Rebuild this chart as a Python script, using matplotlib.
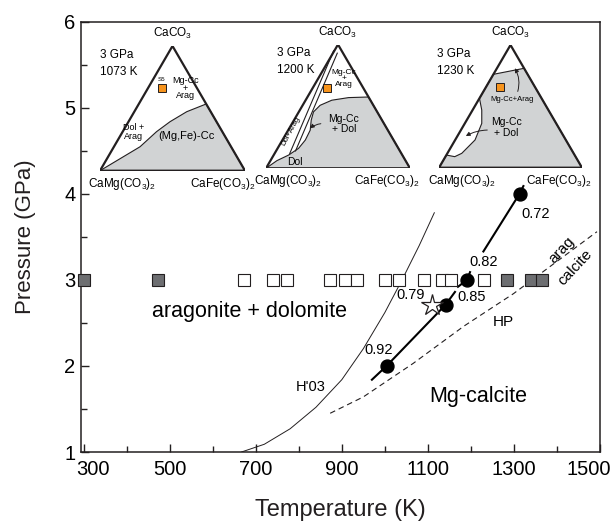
import matplotlib
matplotlib.use('Agg')
import matplotlib.pyplot as plt
from matplotlib.patches import Polygon, FancyArrowPatch
from matplotlib.transforms import ScaledTranslation
import numpy as np

plt.rcParams['font.family'] = ['Liberation Sans', 'DejaVu Sans']
plt.rcParams['mathtext.fontset'] = 'custom'
plt.rcParams['mathtext.rm'] = 'Liberation Sans'
plt.rcParams['mathtext.default'] = 'regular'

# ---------------- data ----------------
dol_T = [300, 473, 1285, 1340, 1366]           # filled squares (3 GPa)
mgc_T = [673, 740, 773, 873, 908, 936, 1000, 1033, 1090, 1133, 1153, 1231]  # open squares
exp_P = 3.0

circ_T = [1004, 1141, 1191, 1313]
circ_P = [2.0, 2.71, 3.0, 4.0]
circ_lab = ['0.92', '0.85', '0.82', '0.72']
star_T, star_P = 1109, 2.71

seg1_T = [970, 1004, 1141, 1163]
seg1_P = [1.84, 2.0, 2.71, 2.86]
seg2_T = [1170, 1191, 1198]
seg2_P = [2.92, 3.0, 3.09]
seg3_T = [1229, 1313, 1322]
seg3_P = [3.33, 4.0, 4.09]

h03_T = [667, 720, 780, 840, 900, 950, 1000, 1040, 1080, 1115]
h03_P = [1.0, 1.09, 1.27, 1.52, 1.84, 2.2, 2.62, 3.0, 3.4, 3.78]

hp_T = [873, 950, 1066, 1183, 1299, 1493]
hp_P = [1.45, 1.64, 2.03, 2.46, 2.84, 3.56]

x_ticks = [300, 500, 700, 900, 1100, 1300, 1500]
y_ticks = [1, 2, 3, 4, 5, 6]

# ternary inset shapes (u along base, v height; apex at (0.5, 1))
tri = [(0, 0), (1, 0), (0.5, 1)]
g1 = [(0, 0), (0.161, 0.112), (0.276, 0.192), (0.39, 0.313), (0.483, 0.393),
      (0.598, 0.473), (0.732, 0.535), (1, 0)]
g2 = [(0.712, 0.576), (0.573, 0.571), (0.457, 0.55), (0.376, 0.509), (0.33, 0.456),
      (0.314, 0.389), (0.307, 0.308), (0.273, 0.228), (0.226, 0.161), (0.157, 0.107),
      (0.076, 0.062), (0, 0), (1, 0)]
g2_line1 = [(0.47, 0.95), (0.165, 0.12)]
g2_line2 = [(0.495, 0.93), (0.205, 0.14)]
g3 = [(0.38, 0.761), (0.595, 0.81), (1, 0), (0, 0), (0.052, 0.103), (0.11, 0.09),
      (0.159, 0.117), (0.252, 0.226), (0.299, 0.361), (0.299, 0.47), (0.283, 0.565)]

W, H = 613, 524
fig = plt.figure(figsize=(W / 100, H / 100), dpi=100)
ax = fig.add_axes([81 / W, (H - 452) / H, (600 - 81) / W, (452 - 21.7) / H])

ax.set_xlim(294, 1500)
ax.set_ylim(1, 6)

lw_sp = 1.1
for s in ax.spines.values():
    s.set_linewidth(lw_sp)
    s.set_color('#231f20')

ax.set_xticks(x_ticks)
ax.set_xticklabels([str(t) for t in x_ticks])
ax.set_xticks([400, 600, 800, 1000, 1200, 1400], minor=True)
ax.set_yticks(y_ticks)
ax.set_yticks([1.5, 2.5, 3.5, 4.5, 5.5], minor=True)
ax.tick_params(which='both', direction='in', width=1.0, color='#231f20',
               labelsize=14.5, top=False, right=False)
ax.tick_params(which='major', length=6)
ax.tick_params(which='minor', length=4.5)
ax.tick_params(axis='x', pad=6)
ax.tick_params(axis='y', pad=4)
xl = ax.get_xticklabels()
xl[0].set_transform(xl[0].get_transform() + ScaledTranslation(9 / 100, 0, fig.dpi_scale_trans))
xl[-1].set_transform(xl[-1].get_transform() + ScaledTranslation(-11 / 100, 0, fig.dpi_scale_trans))
ax.set_xlabel('Temperature (K)', fontsize=17, labelpad=14, color='#231f20')
ax.set_ylabel('Pressure (GPa)', fontsize=16, labelpad=20, color='#231f20')

# curves
ax.plot(h03_T, h03_P, color='#231f20', lw=0.7, zorder=2)
ax.plot(hp_T, hp_P, color='#231f20', lw=0.8, ls=(0, (5, 3.5)), zorder=2)
for tt, pp in [(seg1_T, seg1_P), (seg2_T, seg2_P), (seg3_T, seg3_P)]:
    ax.plot(tt, pp, color='#000000', lw=1.5, zorder=3)

# experiments
ax.plot(mgc_T, [exp_P] * len(mgc_T), ls='none', marker='s', ms=8.3,
        mfc='white', mec='#231f20', mew=0.8, zorder=4)
ax.plot(dol_T, [exp_P] * len(dol_T), ls='none', marker='s', ms=8.3,
        mfc='#6d6e71', mec='#231f20', mew=0.8, zorder=4, clip_on=False)
ax.plot(circ_T, circ_P, ls='none', marker='o', ms=9.3, mfc='black', mec='black', zorder=5)
ax.plot([star_T], [star_P], ls='none', marker='*', ms=16, mfc='white',
        mec='#231f20', mew=0.9, zorder=5)

# labels
ax.text(686, 2.63, 'aragonite + dolomite', fontsize=15.5, ha='center', va='center')
ax.text(1218, 1.64, 'Mg-calcite', fontsize=15.5, ha='center', va='center')
ax.text(827, 1.75, "H'03", fontsize=10.5, ha='center', va='center')
ax.text(1276, 2.51, 'HP', fontsize=11, ha='center', va='center')
lab_pos = {'0.72': (1350, 3.77), '0.82': (1229, 3.21), '0.85': (1202, 2.80), '0.92': (985, 2.18)}
for lab in circ_lab:
    ax.text(*lab_pos[lab], lab, fontsize=10.5, ha='center', va='center')
ax.text(1059, 2.83, '0.79', fontsize=10.5, ha='center', va='center')
ax.text(1412, 3.35, 'arag', fontsize=11, ha='center', va='center', rotation=47)
ax.text(1443, 3.14, 'calcite', fontsize=11, ha='center', va='center', rotation=47)


def inset(L, R, base, apex):
    a = fig.add_axes([L / W, (H - base) / H, (R - L) / W, (base - apex) / H])
    a.set_xlim(0, 1)
    a.set_ylim(0, 1)
    a.axis('off')
    a.patch.set_alpha(0)
    return a


def frame(a, gray, lab_l='CaMg(CO$_3$)$_2$', lab_r='CaFe(CO$_3$)$_2$'):
    a.add_patch(Polygon(gray, closed=True, fc='#d1d3d4', ec='#231f20', lw=0.8, zorder=1))
    a.add_patch(Polygon(tri, closed=True, fc='none', ec='#231f20', lw=1.6, zorder=3,
                        joinstyle='miter'))
    a.text(0.5, 1.04, 'CaCO$_3$', fontsize=8.5, ha='center', va='bottom', clip_on=False)
    a.text(-0.08, -0.04, lab_l, fontsize=8.5, ha='left', va='top', clip_on=False)
    a.text(1.07, -0.04, lab_r, fontsize=8.5, ha='right', va='top', clip_on=False)


def orange(a, u, v):
    a.plot([u], [v], marker='s', ms=6, mfc='#f7941d', mec='#231f20', mew=0.7, zorder=4)


# inset 1
a1 = inset(100, 245, 170.7, 46)
frame(a1, g1)
a1.text(0.0, 0.93, '3 GPa', fontsize=8.5, ha='left', va='center')
a1.text(0.0, 0.79, '1073 K', fontsize=8.5, ha='left', va='center')
a1.text(0.425, 0.735, 'S5', fontsize=4.5, ha='center', va='center')
orange(a1, 0.425, 0.666)
a1.text(0.59, 0.66, 'Mg-Cc\n+\nArag', fontsize=6.5, ha='center', va='center',
        multialignment='center', linespacing=0.8)
a1.text(0.23, 0.31, 'Dol +\nArag', fontsize=6.5, ha='center', va='center',
        multialignment='center', linespacing=1.0)
a1.text(0.598, 0.281, '(Mg,Fe)-Cc', fontsize=8, ha='center', va='center')

# inset 2
a2 = inset(266, 410, 168.3, 44.5)
frame(a2, g2)
for ln in (g2_line1, g2_line2):
    a2.plot([p[0] for p in ln], [p[1] for p in ln], color='#231f20', lw=0.8, zorder=2)
a2.text(0.076, 0.93, '3 GPa', fontsize=8.5, ha='left', va='center')
a2.text(0.076, 0.79, '1200 K', fontsize=8.5, ha='left', va='center')
orange(a2, 0.423, 0.651)
a2.text(0.54, 0.726, 'Mg-Cc\n+\nArag', fontsize=6, ha='center', va='center',
        multialignment='center', linespacing=0.8)
a2.text(0.54, 0.358, 'Mg-Cc\n+ Dol', fontsize=7.5, ha='center', va='center',
        multialignment='center', linespacing=1.1)
a2.text(0.203, 0.05, 'Dol', fontsize=7.5, ha='center', va='center')
a2.text(0.175, 0.30, 'Dol+Arag', fontsize=5.5, ha='center', va='center', rotation=62)
a2.add_patch(FancyArrowPatch((0.40, 0.362), (0.291, 0.308), arrowstyle='-|>',
                             mutation_scale=6, lw=0.7, color='#231f20',
                             connectionstyle='arc3,rad=0.2', zorder=5))

# inset 3
a3 = inset(439, 582, 167.7, 45)
frame(a3, g3)
a3.text(-0.014, 0.93, '3 GPa', fontsize=8.5, ha='left', va='center')
a3.text(-0.014, 0.79, '1230 K', fontsize=8.5, ha='left', va='center')
orange(a3, 0.43, 0.658)
a3.text(0.514, 0.552, 'Mg-Cc+Arag', fontsize=5.5, ha='center', va='center')
a3.text(0.47, 0.33, 'Mg-Cc\n+ Dol', fontsize=7.5, ha='center', va='center',
        multialignment='center', linespacing=1.1)
a3.add_patch(FancyArrowPatch((0.545, 0.6), (0.52, 0.83), arrowstyle='-|>',
                             mutation_scale=6, lw=0.7, color='#231f20',
                             connectionstyle='arc3,rad=0.25', zorder=5))
a3.add_patch(FancyArrowPatch((0.357, 0.307), (0.171, 0.247), arrowstyle='-|>',
                             mutation_scale=6, lw=0.7, color='#231f20',
                             connectionstyle='arc3,rad=0.15', zorder=5))

fig.savefig('out.png', dpi=100)
